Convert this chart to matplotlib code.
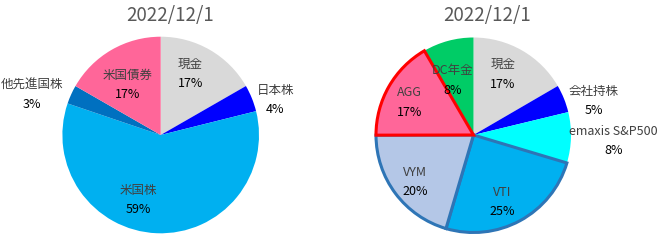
import numpy as np
import matplotlib

matplotlib.use('Agg')
import matplotlib.pyplot as plt

plt.rcParams['font.family'] = ['Noto Sans CJK JP', 'DejaVu Sans']

# -----------------------------
# Data
# -----------------------------
title_left = "2022/12/1"
labels_left = ["現金", "日本株", "米国株", "他先進国株", "米国債券"]
values_left = [16.7, 4.4, 59.1, 3.1, 16.7]
colors_left = ["#D9D9D9", "#0000FF", "#00B0F0", "#0070C0", "#FF6699"]

title_right = "2022/12/1"
labels_right = ["現金", "会社持株", "emaxis S&P500", "VTI", "VYM", "AGG", "DC年金"]
values_right = [16.6, 4.6, 8.4, 24.9, 20.4, 16.6, 8.4]
colors_right = ["#D9D9D9", "#0000FF", "#00FFFF", "#00B0F0", "#B4C7E7", "#FF6699", "#00CC66"]
edges_right = ["none", "none", "none", "#2E75B6", "#2E75B6", "#FF0000", "none"]

# label placement: distance (in radii) and angle nudge (deg, clockwise)
lab_dist_left = [0.69, 1.22, 0.70, 1.37, 0.61]
lab_nudge_left = [-4, 5, 17, -7, -3]
lab_dist_right = [0.69, 1.28, 1.44, 0.75, 0.77, 0.74, 0.60]
lab_nudge_right = [-4, 6, 1, 5, -2, -3, -6]

W, H = 660, 241
fig = plt.figure(figsize=(W / 100, H / 100), dpi=100)


def pie_axes(cx, cy, r_px, half=160):
    """Pixel koordinatalari bo'yicha kvadrat axes yaratish."""
    ax = fig.add_axes([(cx - half) / W, (H - cy - half) / H, 2 * half / W, 2 * half / H])
    lim = half / r_px
    return ax, lim


def draw_pie(ax, lim, values, labels, colors, edges, dists, nudges, lw=2.2):
    total = sum(values)
    wedges, _ = ax.pie(values, colors=colors, startangle=90, counterclock=False,
                       wedgeprops=dict(linewidth=0))
    for w, ec in zip(wedges, edges):
        if ec != "none":
            w.set_edgecolor(ec)
            w.set_linewidth(lw)
            w.set_zorder(3)
    for w, lab, v, d, n in zip(wedges, labels, values, dists, nudges):
        mid = np.deg2rad((w.theta1 + w.theta2) / 2 - n)
        x, y = d * np.cos(mid), d * np.sin(mid)
        ax.text(x, y + 0.10, lab, ha='center', va='center', fontsize=9, color="#404040", zorder=5)
        ax.text(x, y - 0.10, f"{v / total * 100:.0f}%", ha='center', va='center', fontsize=9,
                color="black", zorder=5)
    ax.set_xlim(-lim, lim)
    ax.set_ylim(-lim, lim)
    ax.set_aspect('equal')
    ax.axis('off')


ax1, lim1 = pie_axes(160.7, 135, 98.3)
draw_pie(ax1, lim1, values_left, labels_left, colors_left, ["none"] * len(values_left),
         lab_dist_left, lab_nudge_left)

ax2, lim2 = pie_axes(473.5, 135, 97.5)
draw_pie(ax2, lim2, values_right, labels_right, colors_right, edges_right,
         lab_dist_right, lab_nudge_right)

fig.text(170 / W, 1 - 16 / H, title_left, ha='center', va='center', fontsize=13.5, color="#595959")
fig.text(487 / W, 1 - 16 / H, title_right, ha='center', va='center', fontsize=13.5, color="#595959")

fig.savefig("out.png", dpi=100, facecolor="white")
